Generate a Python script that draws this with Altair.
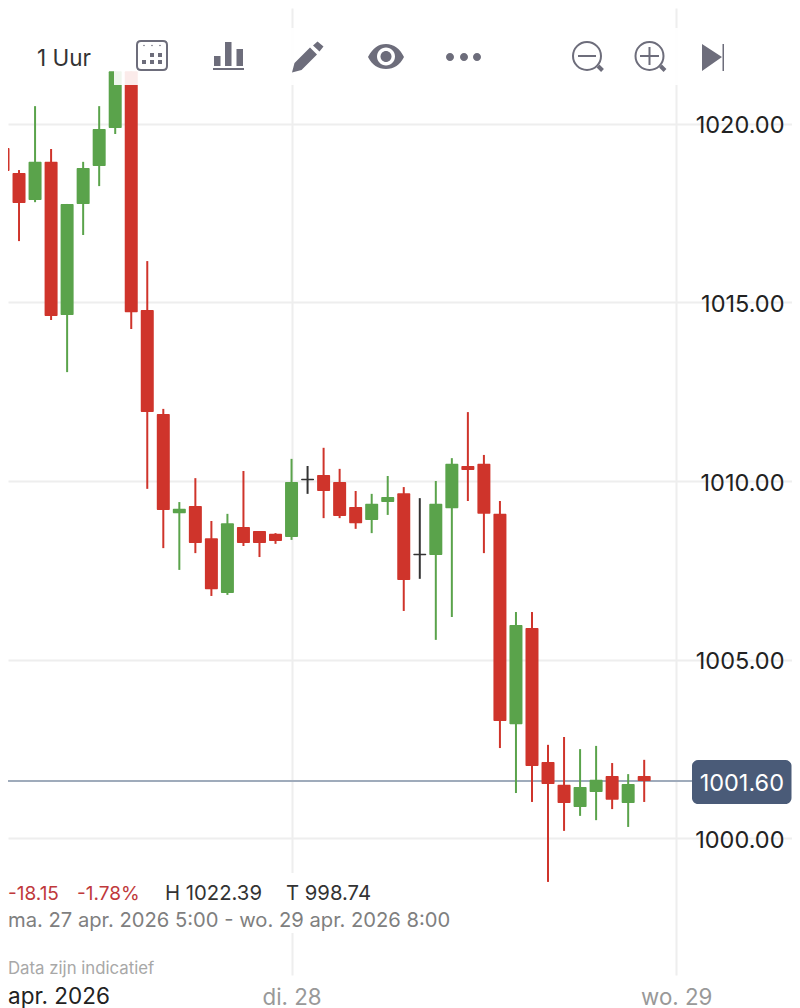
import altair as alt
import pandas as pd

# Values
direction = ["down","down","up","down","up","up","up","up","down","down","down","up","down","down","up","down","down","down","up","flat","down","down","down","up","up","down","flat","up","up","down","down","down","up","down","down","down","up","up","down","up","down"]
body_top = [1019.33,1018.63,1018.94,1018.94,1017.76,1018.77,1019.86,1021.48,1021.48,1014.79,1011.88,1009.22,1009.30,1008.40,1008.82,1008.71,1008.60,1008.52,1009.97,1010.06,1010.17,1009.97,1009.27,1009.36,1009.55,1009.66,1007.96,1009.36,1010.48,1010.42,1010.48,1009.08,1005.97,1005.88,1002.13,1001.49,1001.43,1001.63,1001.74,1001.51,1001.74]
body_bottom = [1018.68,1017.79,1017.87,1014.62,1014.65,1017.76,1018.82,1019.89,1014.73,1011.93,1009.19,1009.10,1008.26,1006.97,1006.86,1008.26,1008.26,1008.32,1008.43,1010.02,1009.72,1009.02,1008.82,1008.91,1009.41,1007.23,1007.92,1007.93,1009.24,1010.31,1009.08,1003.28,1003.19,1002.02,1001.51,1000.98,1000.87,1001.29,1001.07,1000.98,1001.60]
high = [1020.00,1018.71,1020.50,1019.30,1017.76,1018.94,1020.50,1021.48,1021.48,1016.16,1012.02,1009.41,1010.08,1008.88,1009.08,1010.28,1008.60,1008.54,1010.62,1010.42,1010.93,1010.34,1009.72,1009.64,1010.14,1009.83,1009.52,1010.00,1010.64,1011.93,1010.73,1009.44,1006.33,1006.33,1002.61,1002.83,1002.49,1002.58,1002.10,1001.79,1002.19]
low = [1018.63,1016.72,1017.81,1014.51,1013.05,1016.89,1018.26,1019.72,1014.26,1009.78,1008.12,1007.51,1007.98,1006.78,1006.81,1008.18,1007.87,1008.24,1008.35,1009.64,1008.96,1008.96,1008.66,1008.54,1009.05,1006.36,1007.26,1005.55,1006.19,1009.44,1007.98,1002.52,1001.26,1001.01,998.77,1000.20,1000.62,1000.50,1000.81,1000.31,1001.01]
hour_index = list(range(len(direction)))
price_ticks = [1000, 1005, 1010, 1015, 1020]
day_ticks = [18, 42]
last_price = 1001.60

GREY = "#6D6D7B"
df = pd.DataFrame(dict(i=hour_index, top=body_top, bottom=body_bottom, high=high, low=low, d=direction))

x_scale = alt.Scale(domain=[0.312, 49.22], nice=False, zero=False, padding=0)
y_scale = alt.Scale(domain=[996.163, 1023.249], nice=False, zero=False)
x_axis = alt.Axis(values=day_ticks, labelExpr="datum.value == 18 ? 'di. 28' : 'wo. 29'", title=None,
                  domain=False, ticks=False, grid=True, gridColor="#EEEEEE", gridWidth=2,
                  labelFontSize=22.3, labelColor="#999999", labelFont="Inter", labelPadding=11)
y_axis = alt.Axis(values=price_ticks, format=".2f", title=None, orient="right", offset=-8,
                  domain=False, ticks=False, grid=True, gridColor="#EEEEEE", gridWidth=2,
                  labelAlign="right", labelBaseline="middle", labelPadding=0, labelOffset=2,
                  labelFontSize=23.5, labelColor="#222222", labelFont="Inter")
color = alt.Color("d:N", legend=None,
                  scale=alt.Scale(domain=["up", "down", "flat"], range=["#5AA34B", "#CF342B", "#333333"]))
X = alt.X("i:Q", scale=x_scale, axis=x_axis)

wicks = alt.Chart(df).mark_rule(strokeWidth=2, clip=True).encode(
    x=X, y=alt.Y("high:Q", scale=y_scale, axis=y_axis), y2="low:Q", color=color)
bodies = alt.Chart(df).mark_bar(size=13, clip=True, cornerRadius=1).encode(
    x=X, y=alt.Y("top:Q", scale=y_scale, axis=y_axis), y2="bottom:Q", color=color)
price_line = alt.Chart(pd.DataFrame({"p": [last_price]})).mark_rule(strokeWidth=2, color="#9FABBB").encode(
    x=alt.value(0), x2=alt.value(686), y=alt.Y("p:Q", scale=y_scale, axis=y_axis))


def v(px):
    return alt.value(px - 8)


def rect(x0, x1, y0, y1, fill, opacity=1.0, radius=0):
    return alt.Chart().mark_rect(fill=fill, opacity=opacity, cornerRadius=radius).encode(
        x=v(x0), x2=v(x1), y=v(y0), y2=v(y1))


def text(s, px, py, size, col, align="left", font="Inter"):
    return alt.Chart().mark_text(text=s, fontSize=size, color=col, align=align, baseline="middle", font=font).encode(
        x=v(px), y=v(py))


def circle(cx, cy, r):
    return f"M{cx-r},{cy}A{r},{r} 0 1 0 {cx+r},{cy}A{r},{r} 0 1 0 {cx-r},{cy}Z"


def box(x0, y0, x1, y1):
    return f"M{x0},{y0}L{x1},{y0}L{x1},{y1}L{x0},{y1}Z"


def icon(path, filled=True, sw=2.0, col=GREY):
    kw = dict(fill=col, stroke=col, strokeWidth=0) if filled else dict(fill="transparent", stroke=col, strokeWidth=sw)
    return alt.Chart().mark_point(shape=path, size=4, opacity=1, filled=filled, **kw).encode(
        x=alt.value(-8), y=alt.value(-8))


fill_paths = "".join([
    # calendar
    circle(144, 45.5, 0.8), circle(152, 45.5, 0.8), circle(160, 45.5, 0.8),
    box(150, 53, 154, 57), box(158, 53, 162, 57), box(142, 60, 146, 64), box(150, 60, 154, 64), box(158, 60, 162, 64),
    # bars
    box(214, 56, 220.5, 66), box(225, 42, 231.5, 66), box(236.5, 49, 243, 66), box(213, 68, 244, 70),
    # pencil
    "M292,72.5L294.5,63L310,47.5L317,54.5L301.5,70Z", "M313,45.5L317.5,41.5L323.5,46.5L319.5,51.5Z",
    # eye
    "M368,57C373,48 378,44 386,44C394,44 400,49 404,57C400,65 394,69 386,69C378,69 372,65 368,57Z",
    # dots
    circle(450, 57, 4), circle(464, 57, 4), circle(477, 57, 4),
    # last
    "M702,44L722,57L702,71Z", box(722.5, 44, 724, 71),
])
stroke_paths = "".join([
    "M141,41H163Q167,41 167,45V66Q167,70 163,70H141Q137,70 137,66V45Q137,41 141,41Z",
    circle(587, 56, 14), "M578,56H596",
    circle(649.5, 56, 14), "M640,56H659M649.5,47V65",
])
handle_paths = "M598,66L602.5,70.5M660.5,66L665,70.5"

layers = [
    price_line, wicks, bodies,
    rect(114, 690, 28, 85, "white", 0.9),
    rect(8, 375, 873, 933, "white", 0.95),
    rect(692, 791.5, 760, 804, "#4A5B78", 1, 6),
    text("1001.60", 784, 784, 23.5, "white", "right"),
    text("1 Uur", 37, 59, 22.5, "#333333"),
    icon(fill_paths), icon(stroke_paths, filled=False), icon(handle_paths, filled=False, sw=4),
    icon(circle(386, 56.5, 9), col="white"), icon(circle(386, 56.5, 5.5)),
    text("-18.15", 8, 894, 19, "#C0393B"),
    text("-1.78%", 77, 894, 19, "#C0393B"),
    text("H 1022.39", 165, 894, 20.3, "#333333"),
    text("T 998.74", 286, 894, 20.3, "#333333"),
    text("ma. 27 apr. 2026 5:00 - wo. 29 apr. 2026 8:00", 8, 921, 20.2, "#7F7F7F"),
    text("Data zijn indicatief", 8, 969, 16.8, "#A8A8A8"),
    text("apr. 2026", 8, 997, 22.5, "#222222"),
]

chart = alt.layer(*layers).properties(
    width=784, height=967,
    autosize=alt.AutoSizeParams(type="none"),
    padding={"left": 0, "right": 0, "top": 0, "bottom": 33},
).configure_view(stroke=None)

chart.save("out.html", embed_options={"renderer": "svg", "actions": False})
